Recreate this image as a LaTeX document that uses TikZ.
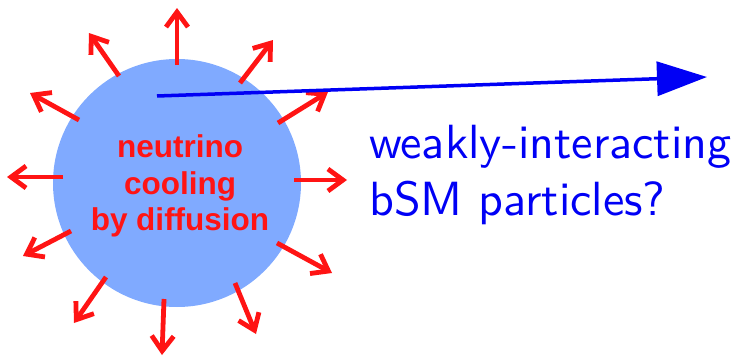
\documentclass[tikz,border=0pt]{standalone}
\usepackage{fontspec}
\newfontfamily\arialfont{Liberation Sans}
\newfontfamily\lmsten{lmsans10-regular.otf}
\usetikzlibrary{arrows.meta}
\definecolor{starblue}{RGB}{128,170,255}
\definecolor{arrowred}{RGB}{255,20,20}
\definecolor{bsmblue}{RGB}{0,0,245}
\tikzset{
  flux/.style={draw=arrowred, line width=4.8pt, -{Straight Barb[length=15pt,width=22pt]}},
  escape/.style={draw=bsmblue, line width=3.5pt, -{Triangle[length=50pt,width=34pt]}},
  redtext/.style={text=arrowred, font=\arialfont\bfseries\fontsize{31.5}{36}\selectfont, inner sep=0pt, anchor=base},
  bluetext/.style={text=bsmblue, font=\lmsten\fontsize{48}{57}\selectfont, inner sep=0pt, anchor=base west},
}
\begin{document}
\begin{tikzpicture}[x=1pt,y=-1pt]
\useasboundingbox (0,0) rectangle (734,356);
\node[circle, fill=starblue, minimum size=248pt, inner sep=0pt] (star) at (177,183) {};
\foreach \i/\sx/\sy/\ex/\ey in {
  1/177/65/177/8,
  2/119/76/89/33,
  3/79/120/30/93,
  4/63/177/7/177,
  5/71/231/23/256,
  6/106/277/74/323,
  7/164/299/162/355,
  8/235/283/256/334,
  9/277/243/332/273,
  10/294/180/347/180,
  11/278/123/328/92,
  12/240/83/273/40}{
  \coordinate (s\i) at (\sx,\sy);
  \coordinate (e\i) at (\ex,\ey);
  \draw[flux] (s\i) -- (e\i);
}
\node[redtext] (t1) at (180,157) {neutrino};
\node[redtext] (t2) at (180,194) {cooling};
\node[redtext] (t3) at (180,230) {by diffusion};
\coordinate (bs) at (157,96);
\coordinate (be) at (707,77);
\draw[escape] (bs) -- (be);
\node[bluetext] (w1) at (369,158) {weakly-interacting};
\node[bluetext] (w2) at (369,215) {bSM particles?};
\end{tikzpicture}
\end{document}
